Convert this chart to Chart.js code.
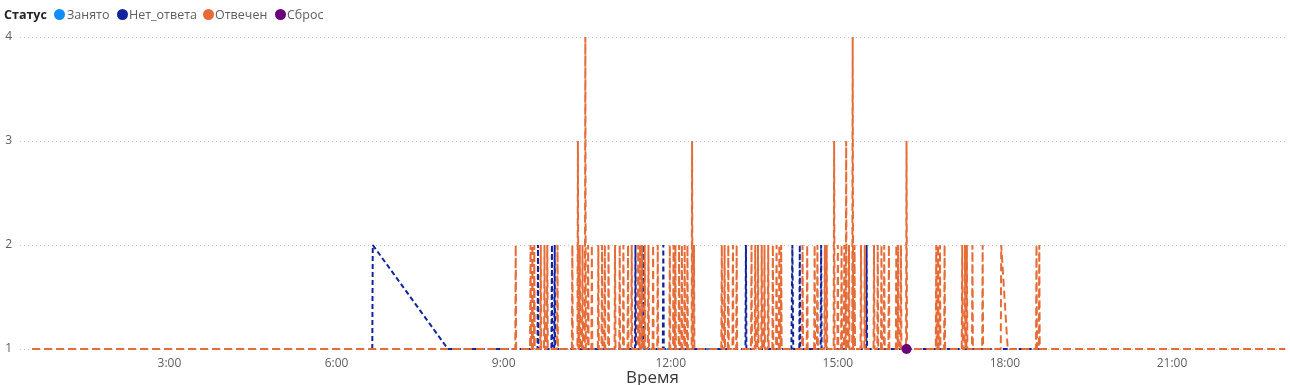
<!DOCTYPE html>
<html><head><meta charset="utf-8">
<script src="https://cdn.jsdelivr.net/npm/chart.js@4"></script>
<style>
html,body{margin:0;padding:0;background:#fff;overflow:hidden;}
#wrap{position:relative;width:1290px;height:385px;}
#legend{position:absolute;left:0;top:0;height:30px;width:1290px;font-family:"Segoe UI","Open Sans",sans-serif;font-size:12.5px;color:#605E5C;z-index:2}
.lt{position:absolute;top:6px;line-height:18px;white-space:nowrap}
.dot{position:absolute;top:9px;width:11px;height:11px;border-radius:50%}
canvas{position:absolute;left:0;top:0}
</style></head><body>
<div id="wrap"><canvas id="c" width="1290" height="385"></canvas><div id="legend"></div></div>
<script>
const legendTitle = 'Статус';
const seriesNames = ['Занято','Нет_ответа','Отвечен','Сброс'];
const seriesColors = ['#118DFF','#12239E','#E66C37','#6B007B'];
const xTitle = 'Время';
const xTickLabels = ['3:00','6:00','9:00','12:00','15:00','18:00','21:00'];

const zanyatoPoints = [['10:51',1],['11:46',1],['12:46',1]];

const netOtvetaPoints = [
 ['6:38:30',1],['6:39',2],['8:00',1],
 ['9:36:30',1],['9:37',2],['9:37:30',1],
 ['9:51:30',1],['9:52',2],['9:52:30',1],['9:54:30',1],['9:55',2],['9:55:30',1],
 ['11:21:30',1],['11:22',2],['11:22:30',1],
 ['11:29:30',1],['11:30',2],['11:30:30',1],
 ['11:51:30',1],['11:52',2],['11:52:30',1],
 ['13:20:30',1],['13:21',2],['13:21:30',1],
 ['14:10',1],['14:11',2],['14:12',1],
 ['14:18:30',1],['14:19',2],['14:19:30',1],
 ['14:41:30',1],['14:42',2],['14:42:30',1],
 ['15:30:30',1],['15:31',2],['15:31:30',1],
 ['18:40',1]
];

const otvechenPoints = [
 ['0:32',1],
 ['9:12:30',1],['9:13',2],['9:13:30',1],
 ['9:28:30',1],['9:29',2],['9:29:30',1],
 ['9:30:30',1],['9:31',2],['9:31:30',1],
 ['9:32:30',1],['9:33',2],['9:33:30',1],
 ['9:39:30',1],['9:40',2],['9:40:30',1],
 ['9:43:30',1],['9:44',2],['9:44:30',1],
 ['9:46:30',1],['9:47',2],['9:47:30',1],
 ['9:57:30',1],['9:58',2],['9:58:30',1],
 ['10:13:30',1],['10:14',2],['10:14:30',1],
 ['10:19:30',1],['10:20',3],['10:20:30',1],
 ['10:21:30',1],['10:22',2],['10:22:30',1],
 ['10:24:30',1],['10:25',2],['10:25:30',1],
 ['10:27:30',1],['10:28',4],['10:28:30',1],
 ['10:30:30',1],['10:31',2],['10:31:30',1],
 ['10:34:30',1],['10:35',2],['10:35:30',1],
 ['10:41:30',1],['10:42',2],['10:42:30',1],
 ['10:45:30',1],['10:46',2],['10:46:30',1],
 ['10:48:30',1],['10:49',2],['10:49:30',1],
 ['10:52:30',1],['10:53',2],['10:53:30',1],
 ['10:59:30',1],['11:00',2],['11:00:30',1],
 ['11:04:30',1],['11:05',2],['11:05:30',1],
 ['11:08:30',1],['11:09',2],['11:09:30',1],
 ['11:13:30',1],['11:14',2],['11:14:30',1],
 ['11:17:30',1],['11:18',2],['11:18:30',1],
 ['11:24:30',1],['11:25',2],['11:25:30',1],
 ['11:26:30',1],['11:27',2],['11:27:30',1],
 ['11:28:30',1],['11:29',2],['11:29:30',1],
 ['11:31:30',1],['11:32',2],['11:32:30',1],
 ['11:35:30',1],['11:36',2],['11:36:30',1],
 ['11:40:30',1],['11:41',2],['11:41:30',1],
 ['11:45:30',1],['11:46',2],['11:46:30',1],
 ['11:58:30',1],['11:59',2],['11:59:30',1],
 ['12:02:30',1],['12:03',2],['12:03:30',1],
 ['12:04:30',1],['12:05',2],['12:05:30',1],
 ['12:08:30',1],['12:09',2],['12:09:30',1],
 ['12:11:30',1],['12:12',2],['12:12:30',1],
 ['12:14:30',1],['12:15',2],['12:15:30',1],
 ['12:17:30',1],['12:18',2],['12:18:30',1],
 ['12:22:30',1],['12:23',3],['12:23:30',1],
 ['12:24:30',1],['12:25',2],['12:25:30',1],
 ['12:54:30',1],['12:55',2],['12:55:30',1],
 ['12:57:30',1],['12:58',2],['12:58:30',1],
 ['13:01:30',1],['13:02',2],['13:02:30',1],
 ['13:06:30',1],['13:07',2],['13:07:30',1],
 ['13:10:30',1],['13:11',2],['13:11:30',1],
 ['13:26:30',1],['13:27',2],['13:27:30',1],
 ['13:30:30',1],['13:31',2],['13:31:30',1],
 ['13:33:30',1],['13:34',2],['13:34:30',1],
 ['13:37:30',1],['13:38',2],['13:38:30',1],
 ['13:40:30',1],['13:41',2],['13:41:30',1],
 ['13:44:30',1],['13:45',2],['13:45:30',1],
 ['13:49:30',1],['13:50',2],['13:50:30',1],
 ['13:53:30',1],['13:54',2],['13:54:30',1],
 ['13:56:30',1],['13:57',2],['13:57:30',1],
 ['13:58:30',1],['13:59',2],['13:59:30',1],
 ['14:21:30',1],['14:22',2],['14:22:30',1],
 ['14:26:30',1],['14:27',2],['14:27:30',1],
 ['14:34:30',1],['14:35',2],['14:35:30',1],
 ['14:37:30',1],['14:38',2],['14:38:30',1],
 ['14:45:30',1],['14:46',2],['14:46:30',1],
 ['14:47:30',1],['14:48',2],['14:48:30',1],
 ['14:55:30',1],['14:56',3],['14:56:30',1],
 ['14:59:30',1],['15:00',2],['15:00:30',1],
 ['15:03:30',1],['15:04',2],['15:04:30',1],
 ['15:06:30',1],['15:07',2],['15:07:30',1],
 ['15:08:30',1],['15:09',3],['15:09:30',1],
 ['15:11:30',1],['15:12',2],['15:12:30',1],
 ['15:15:30',1],['15:16',4],['15:16:30',1],
 ['15:17:30',1],['15:18',2],['15:18:30',1],
 ['15:24:30',1],['15:25',2],['15:25:30',1],
 ['15:28:30',1],['15:29',2],['15:29:30',1],
 ['15:38:30',1],['15:39',2],['15:39:30',1],
 ['15:42:30',1],['15:43',2],['15:43:30',1],
 ['15:46:30',1],['15:47',2],['15:47:30',1],
 ['15:49:30',1],['15:50',2],['15:50:30',1],
 ['15:54:30',1],['15:55',2],['15:55:30',1],
 ['16:02:30',1],['16:03',2],['16:03:30',1],
 ['16:04:30',1],['16:05',2],['16:05:30',1],
 ['16:07:30',1],['16:08',2],['16:08:30',1],
 ['16:13:30',1],['16:14',3],['16:14:30',1],
 ['16:45:30',1],['16:46',2],['16:46:30',1],
 ['16:47:30',1],['16:48',2],['16:48:30',1],
 ['16:49:30',1],['16:50',2],['16:50:30',1],
 ['16:54:30',1],['16:55',2],['16:55:30',1],
 ['17:13:30',1],['17:14',2],['17:14:30',1],
 ['17:16:30',1],['17:17',2],['17:17:30',1],
 ['17:18:30',1],['17:19',2],['17:19:30',1],
 ['17:24:30',1],['17:25',2],['17:25:30',1],
 ['17:35:30',1],['17:36',2],['17:36:30',1],
 ['17:55:30',1],['17:56',2],['18:03',1],
 ['18:33:30',1],['18:34',2],['18:34:30',1],
 ['18:36:30',1],['18:37',2],['18:37:30',1],
 ['23:02',1]
];

const sbrosPoints = [['16:14',1]];

function toMin(t){const [h,m,s]=t.split(':').map(Number);return h*60+m+(s||0)/60;}
function mk(points){return points.map(([t,v])=>({x:toMin(t),y:v}));}

// legend (HTML)
const lg = document.getElementById('legend');
const tEl = document.createElement('span');
tEl.className='lt'; tEl.style.left='4px'; tEl.style.fontWeight='700'; tEl.style.color='#252423';
tEl.textContent = legendTitle; lg.appendChild(tEl);
const dotLeft=[54,117,203,275], txtLeft=[67,129,215,287];
seriesNames.forEach((n,i)=>{
  const d=document.createElement('span'); d.className='dot'; d.style.left=dotLeft[i]+'px'; d.style.background=seriesColors[i]; lg.appendChild(d);
  const s=document.createElement('span'); s.className='lt'; s.style.left=txtLeft[i]+'px'; s.textContent=n; lg.appendChild(s);
});

const tickFont = {family:'"Segoe UI","Open Sans",sans-serif', size:12};
const lineCommon = {borderWidth:2, pointRadius:0, tension:0, borderJoinStyle:'bevel', clip:false, fill:false};

new Chart(document.getElementById('c'), {
  type:'line',
  data:{datasets:[
    Object.assign({label:seriesNames[0], data:mk(zanyatoPoints), borderColor:seriesColors[0], borderDash:[8,4], order:3}, lineCommon),
    Object.assign({label:seriesNames[1], data:mk(netOtvetaPoints), borderColor:seriesColors[1], borderDash:[5,3], order:2}, lineCommon),
    Object.assign({label:seriesNames[2], data:mk(otvechenPoints), borderColor:seriesColors[2], borderDash:[8,4], order:1}, lineCommon),
    {label:seriesNames[3], data:mk(sbrosPoints), showLine:false, pointRadius:5, pointBorderWidth:0,
     pointBackgroundColor:seriesColors[3], borderColor:seriesColors[3], clip:false, order:0}
  ]},
  options:{
    responsive:false, animation:false, events:[],
    layout:{padding:{top:37,right:3,left:0,bottom:0}},
    plugins:{legend:{display:false}, tooltip:{enabled:false}},
    scales:{
      x:{type:'linear', min:19.0, max:1381.7,
        grid:{display:false, drawTicks:false}, border:{display:false},
        afterBuildTicks:(s)=>{ s.ticks = xTickLabels.map(l=>({value:toMin(l)})); },
        ticks:{autoSkip:false, maxRotation:0, padding:7, color:'#605E5C', font:tickFont,
          callback:(v)=>{const i=xTickLabels.findIndex(l=>toMin(l)===v); return i>=0?xTickLabels[i]:'';}},
        afterFit:(s)=>{ s.height = 36; },
        title:{display:true, text:xTitle, color:'#3b3a39', font:{family:'"Segoe UI","Open Sans",sans-serif', size:17, lineHeight:0.8}, padding:{top:0,bottom:0}}
      },
      y:{min:1, max:4,
        grid:{color:'#c8c6c4', drawTicks:false, lineWidth:1}, border:{display:false, dash:[1,3]},
        ticks:{stepSize:1, padding:8, color:'#605E5C', font:tickFont},
        afterFit:(s)=>{ s.width = 20; }
      }
    }
  }
});
</script>
</body></html>
